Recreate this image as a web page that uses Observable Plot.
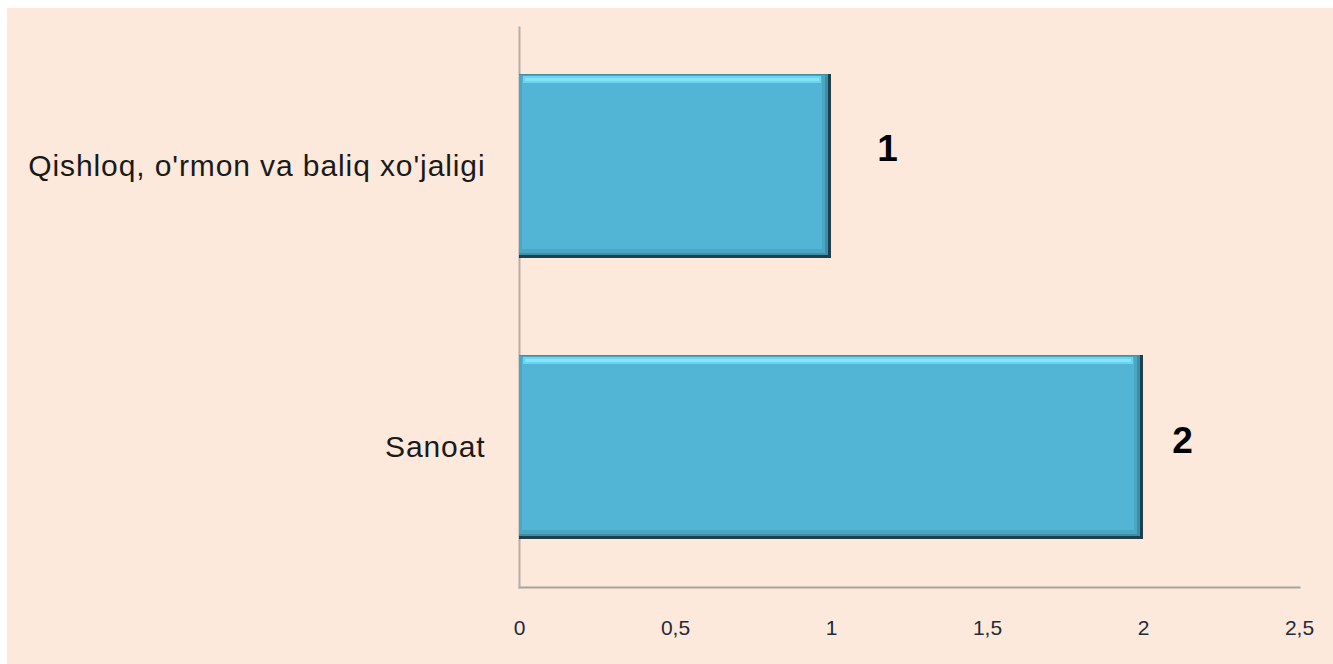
<!DOCTYPE html>
<html>
<head>
<meta charset="utf-8">
<script src="https://cdn.jsdelivr.net/npm/d3@7"></script>
<script src="https://cdn.jsdelivr.net/npm/@observablehq/plot@0.6"></script>
<style>
  html, body { margin: 0; padding: 0; background: #ffffff; }
  #wrap { padding-left: 7px; padding-top: 8px; }
  #wrap svg { display: block; background: #fce9dc; }
  #wrap svg g[aria-label="y-axis tick label"] text { letter-spacing: 0.9px; }
</style>
</head>
<body>
<div id="wrap"></div>
<script>
const categories = ["Qishloq, o'rmon va baliq xo'jaligi", "Sanoat"];
const values = [1, 2];
const xTicks = [0, 0.5, 1, 1.5, 2, 2.5];
const xTickLabels = ["0", "0,5", "1", "1,5", "2", "2,5"];

const data = categories.map((c, i) => ({category: c, value: values[i]}));

const W = 1326, H = 656;
const marginTop = 19, marginBottom = 77;
const innerH = H - marginTop - marginBottom;
const pInner = 0.344, pOuter = 0.165;
const step = innerH / (categories.length - pInner + 2 * pOuter);
const bw = step * (1 - pInner);

const chart = Plot.plot({
  width: W,
  height: H,
  marginLeft: 512,
  marginRight: 34,
  marginTop,
  marginBottom,
  style: {background: "#fce9dc", fontFamily: "Liberation Sans, Arial, sans-serif"},
  x: {domain: [0, 2.5], ticks: xTicks, label: null},
  y: {domain: categories, paddingInner: pInner, paddingOuter: pOuter, label: null},
  marks: [
    Plot.frame({anchor: "bottom", stroke: "#a9a39d", strokeWidth: 2}),
    Plot.frame({anchor: "left", stroke: "#b5aea8", strokeWidth: 2}),
    // bevelled bar: dark edge
    Plot.barX(data, {x: "value", y: "category", fill: "#1f3f4a"}),
    Plot.barX(data, {x: "value", y: "category", fill: "#3e8ea5", insetRight: 3, insetBottom: 3}),
    Plot.barX(data, {x: "value", y: "category", fill: "#4aa6c3", insetRight: 6, insetBottom: 5, insetTop: 1}),
    Plot.barX(data, {x: "value", y: "category", fill: "#52b5d5", insetRight: 9, insetBottom: 9, insetTop: 3, insetLeft: 3}),
    // top highlight
    Plot.barX(data, {x: "value", y: "category", fill: "#6fd3ee", insetTop: 2, insetBottom: bw - 10, insetLeft: 4, insetRight: 10}),
    Plot.barX(data, {x: "value", y: "category", fill: "#80e6fa", insetTop: 4, insetBottom: bw - 8, insetLeft: 6, insetRight: 12}),
    Plot.axisX({ticks: xTicks, tickSize: 0, tickPadding: 33, fontSize: 21, fill: "#1f2a3a", label: null, tickFormat: (d) => xTickLabels[xTicks.indexOf(d)]}),
    Plot.axisY({tickSize: 0, tickPadding: 34, fontSize: 30, fill: "#1a1a1a", label: null}),
    Plot.text(data.filter(d => d.value === 1), {x: "value", y: "category", text: d => String(d.value), dx: 56, dy: -17, fontSize: 37, fontWeight: "bold", fill: "#000"}),
    Plot.text(data.filter(d => d.value === 2), {x: "value", y: "category", text: d => String(d.value), dx: 39, dy: -6, fontSize: 37, fontWeight: "bold", fill: "#000"})
  ]
});
document.getElementById("wrap").appendChild(chart);
</script>
</body>
</html>
